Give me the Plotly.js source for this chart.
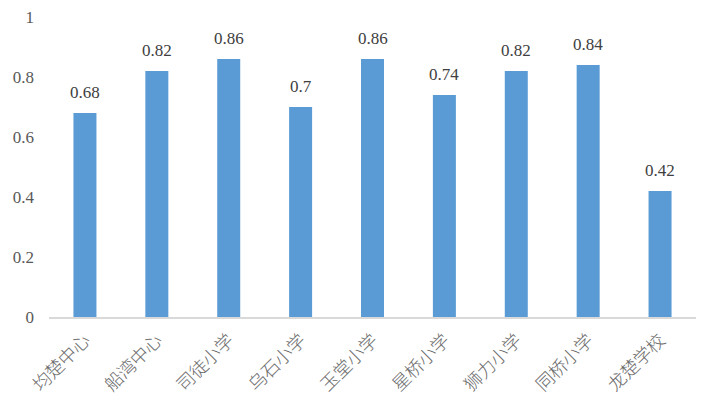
<!DOCTYPE html>
<html>
<head>
<meta charset="utf-8">
<script src="https://cdn.plot.ly/plotly-3.0.1.min.js"></script>
<style>
html,body{margin:0;padding:0;background:#fff;}
#chart{width:702px;height:404px;}
#chart .ytick text, #chart .annotation text { font-family: "Liberation Serif", "Times New Roman", serif !important; }
#chart .xtick text { font-family: "Noto Sans CJK SC", sans-serif !important; font-weight: 300 !important; }
</style>
</head>
<body>
<div id="chart"></div>
<script>
var categories = ["均楚中心", "船湾中心", "司徒小学", "乌石小学", "玉堂小学", "星桥小学", "狮力小学", "同桥小学", "龙楚学校"];
var values = [0.68, 0.82, 0.86, 0.7, 0.86, 0.74, 0.82, 0.84, 0.42];
var yTickValues = [0, 0.2, 0.4, 0.6, 0.8, 1];
var yTickLabels = ["0", "0.2", "0.4", "0.6", "0.8", "1"];

var SERIF = "Liberation Serif";

var trace = {
  type: "bar",
  x: categories,
  y: values,
  marker: {color: "#5b9bd5"},
  hoverinfo: "skip"
};

var annotations = categories.map(function (c, i) {
  return {
    x: c, y: values[i], xref: "x", yref: "y",
    text: String(values[i]),
    showarrow: false,
    yanchor: "bottom",
    yshift: 9,
    font: {family: SERIF, size: 17, color: "#404040"}
  };
});

var layout = {
  width: 702, height: 404,
  margin: {l: 49, r: 6, t: 17, b: 87, pad: 0},
  paper_bgcolor: "#ffffff",
  plot_bgcolor: "#ffffff",
  showlegend: false,
  bargap: 0.68,
  xaxis: {
    type: "category",
    tickangle: -45,
    showline: true, linecolor: "#d9d9d9", linewidth: 1.5,
    showgrid: false, zeroline: false, ticks: "",
    ticklabelstandoff: 4,
    tickfont: {family: "Noto Sans CJK SC", size: 18, weight: 300, color: "#6a6a6a"}
  },
  yaxis: {
    range: [0, 1],
    tickvals: yTickValues,
    ticktext: yTickLabels,
    showline: false, showgrid: false, zeroline: false, ticks: "",
    ticklabelstandoff: 14,
    tickfont: {family: SERIF, size: 17, color: "#595959"}
  },
  annotations: annotations
};

Plotly.newPlot("chart", [trace], layout, {displayModeBar: false, staticPlot: true});
</script>
</body>
</html>
